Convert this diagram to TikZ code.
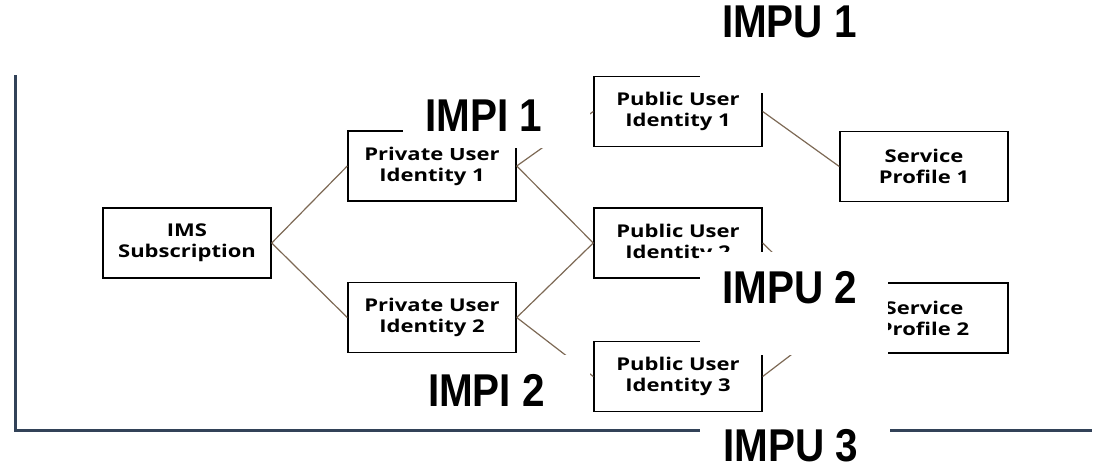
\documentclass[tikz,border=0pt]{standalone}
\usepackage{fontspec}
\newfontfamily\boxfont[FakeStretch=1.25]{Open Sans}
\newfontfamily\labfont[FakeStretch=0.88]{Liberation Sans}
\definecolor{linkbrown}{RGB}{125,105,85}
\definecolor{framegray}{RGB}{50,66,88}

\tikzset{x=0.5pt, y=-0.5pt}
\tikzset{idbox/.style={draw=black, line width=0.7pt, minimum width=84pt, minimum height=35pt,
    align=center, inner sep=0pt, font=\boxfont\bfseries\fontsize{8.8}{10.5}\selectfont},
  link/.style={draw=linkbrown, line width=0.6pt},
  tag/.style={font=\labfont\bfseries\fontsize{23}{23}\selectfont, inner sep=0pt}}

\begin{document}
\begin{tikzpicture}
\useasboundingbox (0,0) rectangle (1104,471);
% frame
\draw[framegray, line width=1.5pt] (15,75) -- (15,430) -- (1092,430);

% identity boxes
\node[idbox] (sub) at (187,243) {IMS\\Subscription};
\node[idbox] (pri1) at (432,166) {Private User\\Identity 1};
\node[idbox] (pri2) at (432,317.5) {Private User\\Identity 2};
\node[idbox] (pub1) at (678,111.5) {Public User\\Identity 1};
\node[idbox] (pub2) at (678,243) {Public User\\Identity 2};
\node[idbox] (pub3) at (678,376.5) {Public User\\Identity 3};
\node[idbox] (prof1) at (924,166.5) {Service\\Profile 1};
\node[idbox] (prof2) at (924,318) {Service\\Profile 2};

% links
\draw[link] (sub.east) -- (pri1.west);
\draw[link] (sub.east) -- (pri2.west);
\draw[link] (pri1.east) -- (pub1.west);
\draw[link] (pri1.east) -- (pub2.west);
\draw[link] (pri2.east) -- (pub2.west);
\draw[link] (pri2.east) -- (pub3.west);
\draw[link] (pub1.east) -- (prof1.west);
\draw[link] (pub2.east) -- (prof2.west);
\draw[link] (pub3.east) -- (prof2.west);

% white patches under the tags
\fill[white] (700,0) rectangle (890,93);
\fill[white] (403,85) rectangle (590,148);
\fill[white] (405,355) rectangle (590,422);
\fill[white] (700,252) rectangle (888,355);
\fill[white] (700,418) rectangle (890,471);

% tags
\node[tag] (impu1) at (789.5,21.5) {IMPU 1};
\node[tag] (impi1) at (484,115.5) {IMPI 1};
\node[tag] (impi2) at (486.5,390) {IMPI 2};
\node[tag] (impu2) at (790,288) {IMPU 2};
\node[tag] (impu3) at (791,446) {IMPU 3};
\end{tikzpicture}
\end{document}
